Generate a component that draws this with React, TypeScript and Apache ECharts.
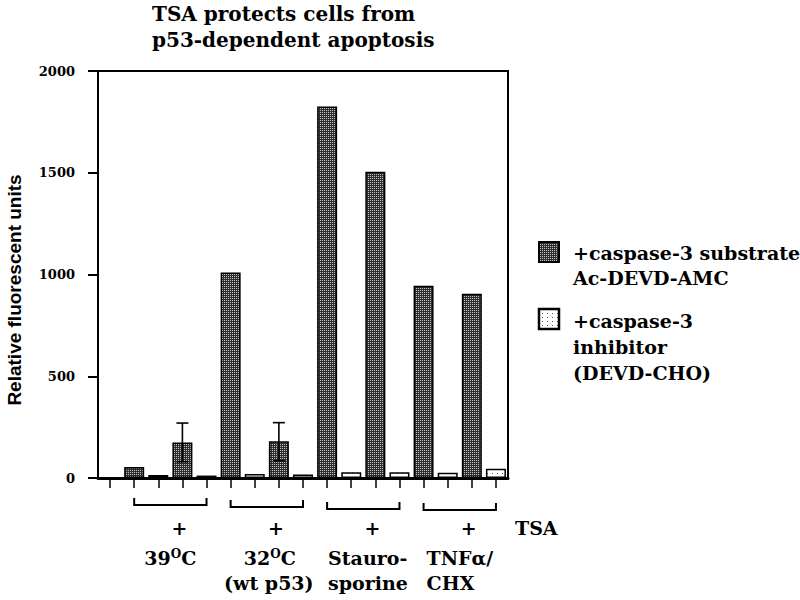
import React, { useEffect, useRef } from "react";
import * as echarts from "echarts";

// ---- data ----
const categories = [
  "", "39 -TSA sub", "39 -TSA inh", "39 +TSA sub", "39 +TSA inh",
  "32 -TSA sub", "32 -TSA inh", "32 +TSA sub", "32 +TSA inh",
  "Stauro -TSA sub", "Stauro -TSA inh", "Stauro +TSA sub", "Stauro +TSA inh",
  "TNF -TSA sub", "TNF -TSA inh", "TNF +TSA sub", "TNF +TSA inh",
];
const substrateValues = [null, 54, null, 175, null, 1010, null, 180, null, 1825, null, 1505, null, 945, null, 905, null];
const inhibitorValues = [null, null, 15, null, 12, null, 20, null, 17, null, 28, null, 28, null, 26, null, 46];
// [category index, low, high]
const errorBars = [
  [3, 80, 270],
  [7, 85, 272],
];
const yMin = 0;
const yMax = 2000;
const yInterval = 500;
const groupRanges = [
  [1, 4],
  [5, 8],
  [9, 12],
  [13, 16],
];
const tsaIndices = [3, 7, 11, 15];
const titleText = "TSA protects cells from\np53-dependent apoptosis";
const yAxisName = "Relative fluorescent units";
const legendSubstrate = ["+caspase-3 substrate", "Ac-DEVD-AMC"];
const legendInhibitor = ["+caspase-3", "inhibitor", "(DEVD-CHO)"];

const SERIF = "'DejaVu Serif', serif";
const SANS = "'Liberation Sans', Arial, sans-serif";

function makePattern(kind: "dark" | "light") {
  const c = document.createElement("canvas");
  if (kind === "dark") {
    c.width = 2;
    c.height = 2;
    const g = c.getContext("2d")!;
    g.fillStyle = "#2e2e2e";
    g.fillRect(0, 0, 2, 2);
    g.fillStyle = "#c4c4c4";
    g.fillRect(0, 0, 1, 1);
  } else {
    c.width = 5;
    c.height = 4;
    const g = c.getContext("2d")!;
    g.fillStyle = "#ffffff";
    g.fillRect(0, 0, 5, 4);
    g.fillStyle = "#555555";
    g.fillRect(2, 1, 1, 1);
  }
  return { image: c, repeat: "repeat", imageWidth: c.width, imageHeight: c.height } as any;
}

export default function App() {
  const ref = useRef<HTMLDivElement>(null);
  useEffect(() => {
    if (!ref.current) return;
    const chart = echarts.init(ref.current, null, { renderer: "svg" });
    const darkFill = makePattern("dark");
    const lightFill = makePattern("light");
    const errStyle = { stroke: "#000", lineWidth: 1.6 };

    chart.setOption({
      animation: false,
      backgroundColor: "#fff",
      title: {
        text: titleText,
        left: 152,
        top: 1,
        padding: 0,
        textStyle: {
          fontFamily: SERIF,
          fontWeight: "bold",
          fontSize: 20,
          lineHeight: 26,
          color: "#000",
        },
      },
      grid: {
        left: 98,
        top: 71,
        right: 292,
        bottom: 122,
        show: true,
        borderColor: "#000",
        borderWidth: 2,
        backgroundColor: "transparent",
      },
      xAxis: {
        type: "category",
        data: categories,
        boundaryGap: true,
        axisLine: { show: true, lineStyle: { color: "#000", width: 3 } },
        axisTick: {
          show: true,
          alignWithLabel: true,
          interval: 0,
          length: 10,
          lineStyle: { color: "#000", width: 1.5 },
        },
        axisLabel: { show: false },
        splitLine: { show: false },
      },
      yAxis: {
        type: "value",
        min: yMin,
        max: yMax,
        interval: yInterval,
        axisLine: { show: true, lineStyle: { color: "#000", width: 2 } },
        axisTick: { show: true, inside: false, length: 10, lineStyle: { color: "#000", width: 2 } },
        axisLabel: {
          margin: 23,
          fontFamily: SERIF,
          fontWeight: "bold",
          fontSize: 13,
          color: "#000",
          formatter: (v: number) => String(v),
        },
        splitLine: { show: false },
      },
      series: [
        {
          name: "substrate",
          type: "bar",
          data: substrateValues,
          barWidth: 20,
          barGap: "-100%",
          itemStyle: { color: darkFill, borderColor: "#000", borderWidth: 1.5 },
        },
        {
          name: "inhibitor",
          type: "bar",
          data: inhibitorValues,
          barWidth: 20,
          barGap: "-100%",
          itemStyle: { color: lightFill, borderColor: "#000", borderWidth: 1.5 },
        },
        {
          name: "error",
          type: "custom",
          z: 10,
          data: errorBars,
          encode: { x: 0, y: [1, 2] },
          renderItem: (params: any, api: any) => {
            const idx = api.value(0);
            const lo = api.coord([idx, api.value(1)]);
            const hi = api.coord([idx, api.value(2)]);
            const w = 6;
            return {
              type: "group",
              children: [
                { type: "line", shape: { x1: hi[0], y1: hi[1], x2: lo[0], y2: lo[1] }, style: errStyle },
                { type: "line", shape: { x1: hi[0] - w, y1: hi[1], x2: hi[0] + w, y2: hi[1] }, style: errStyle },
                { type: "line", shape: { x1: lo[0] - w, y1: lo[1], x2: lo[0] + w, y2: lo[1] }, style: errStyle },
              ],
            };
          },
        },
      ],
    });

    const px = (i: number) => chart.convertToPixel({ xAxisIndex: 0 }, i) as number;
    const labelFont = { fontFamily: SERIF, fontWeight: "bold", fontSize: 19, fill: "#000" } as any;
    const graphics: any[] = [];

    // y axis name
    graphics.push({
      type: "text",
      x: 14,
      y: 290,
      rotation: Math.PI / 2,
      style: {
        text: yAxisName,
        fontFamily: SANS,
        fontWeight: "bold",
        fontSize: 19,
        fill: "#000",
        align: "center",
        verticalAlign: "middle",
      },
    });

    // brackets
    const bracketY = [505, 507, 509, 510];
    groupRanges.forEach(([a, b], k) => {
      const x1 = px(a);
      const x2 = px(b);
      const y = bracketY[k];
      graphics.push({
        type: "polyline",
        shape: { points: [[x1, y - 7], [x1, y], [x2, y], [x2, y - 7]] },
        style: { stroke: "#000", lineWidth: 2, fill: null },
      });
    });

    // "+" marks
    tsaIndices.forEach((i) => {
      graphics.push({
        type: "text",
        x: px(i) - 3,
        y: 528,
        style: { ...labelFont, text: "+", align: "center", verticalAlign: "middle" },
      });
    });
    graphics.push({
      type: "text",
      x: 515,
      y: 528,
      style: { ...labelFont, text: "TSA", align: "left", verticalAlign: "middle" },
    });

    const supRich = {
      s: { fontFamily: SERIF, fontWeight: "bold", fontSize: 12, verticalAlign: "top", padding: [0, 0, 8, 0] },
    };
    // group labels
    graphics.push({
      type: "text",
      x: (px(2) + px(3)) / 2,
      y: 558,
      style: { ...labelFont, text: "39{s|O}C", rich: supRich, align: "center", verticalAlign: "middle" },
    });
    graphics.push({
      type: "text",
      x: (px(6) + px(7)) / 2 + 3,
      y: 558,
      style: { ...labelFont, text: "32{s|O}C", rich: supRich, align: "center", verticalAlign: "middle" },
    });
    graphics.push({
      type: "text",
      x: (px(6) + px(7)) / 2 + 2,
      y: 583,
      style: { ...labelFont, text: "(wt p53)", align: "center", verticalAlign: "middle" },
    });
    graphics.push({
      type: "text",
      x: px(9) + 1,
      y: 558,
      style: { ...labelFont, text: "Stauro-", align: "left", verticalAlign: "middle" },
    });
    graphics.push({
      type: "text",
      x: px(9) + 1,
      y: 583,
      style: { ...labelFont, text: "sporine", align: "left", verticalAlign: "middle" },
    });
    graphics.push({
      type: "text",
      x: px(13) + 3,
      y: 558,
      style: { ...labelFont, text: "TNFα/", align: "left", verticalAlign: "middle" },
    });
    graphics.push({
      type: "text",
      x: px(13) + 3,
      y: 583,
      style: { ...labelFont, text: "CHX", align: "left", verticalAlign: "middle" },
    });

    // legend
    graphics.push({
      type: "rect",
      shape: { x: 539, y: 242, width: 20, height: 20 },
      style: { fill: darkFill, stroke: "#000", lineWidth: 2 },
    });
    legendSubstrate.forEach((t, i) => {
      graphics.push({
        type: "text",
        x: 573,
        y: 253 + i * 25,
        style: { ...labelFont, text: t, align: "left", verticalAlign: "middle" },
      });
    });
    graphics.push({
      type: "rect",
      shape: { x: 539, y: 309, width: 20, height: 20 },
      style: { fill: lightFill, stroke: "#000", lineWidth: 2.5 },
    });
    legendInhibitor.forEach((t, i) => {
      graphics.push({
        type: "text",
        x: 573,
        y: 321 + i * 26,
        style: { ...labelFont, text: t, align: "left", verticalAlign: "middle" },
      });
    });

    chart.setOption({ graphic: graphics });

    return () => chart.dispose();
  }, []);

  return (
    <div
      ref={ref}
      style={{ position: "fixed", left: 0, top: 0, width: 800, height: 600, background: "#fff" }}
    />
  );
}
